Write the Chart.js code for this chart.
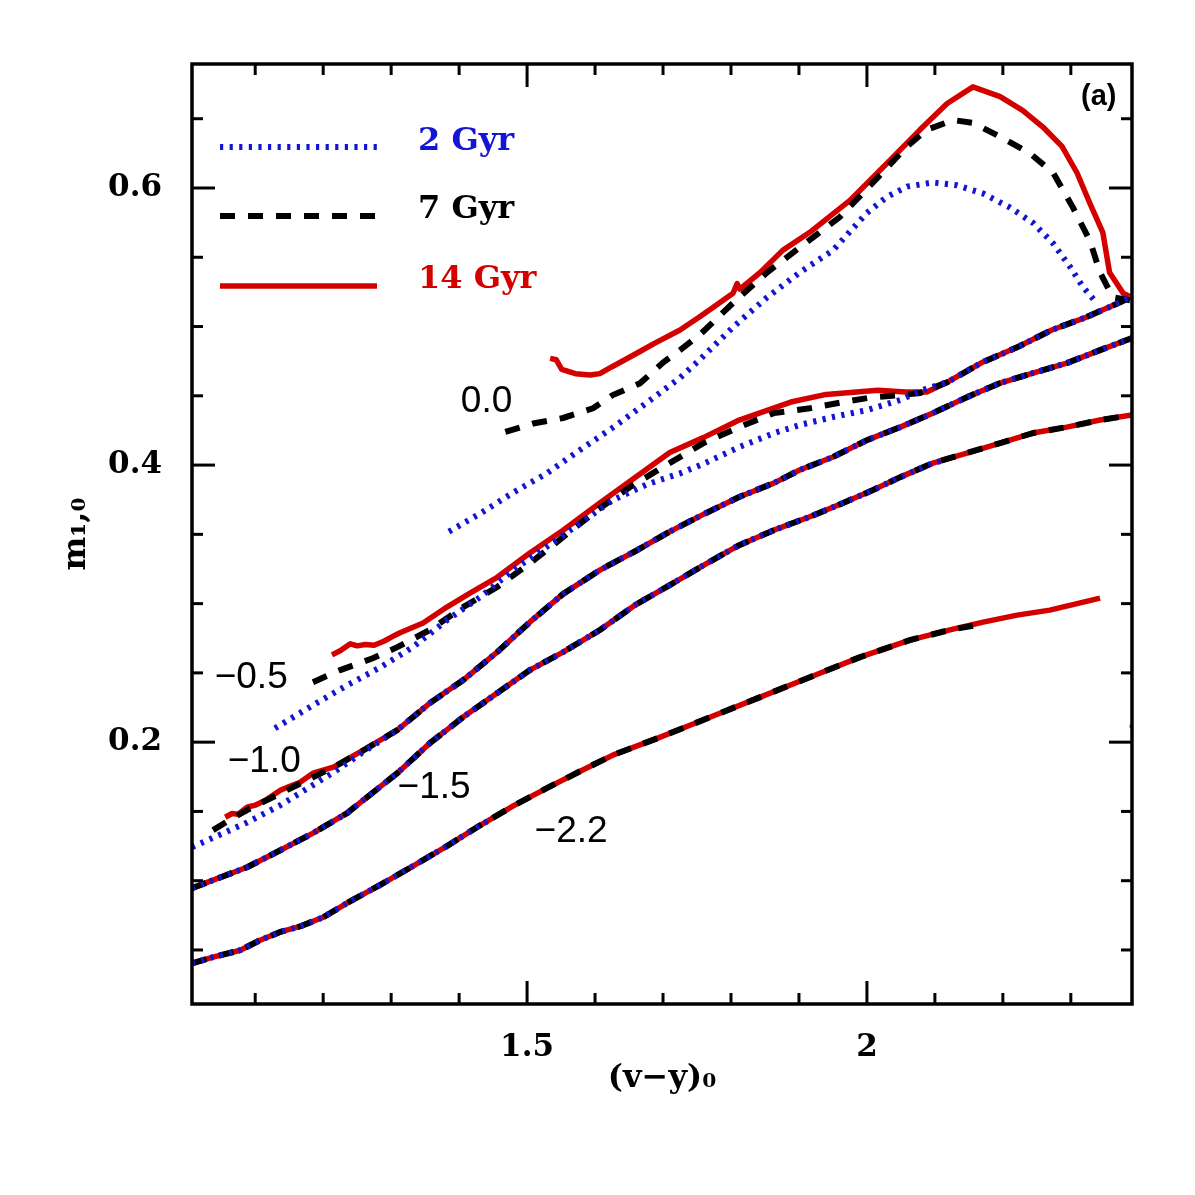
<!DOCTYPE html>
<html><head><meta charset="utf-8">
<script src="https://cdn.jsdelivr.net/npm/chart.js@4/dist/chart.umd.min.js"></script>
<style>html,body{margin:0;padding:0;background:#fff}canvas{display:block}</style>
</head><body>
<canvas id="c" width="1195" height="1195"></canvas>
<script>
// ---------------- data ----------------
const ageLabels = ['2 Gyr', '7 Gyr', '14 Gyr'];
const fehLabels = ['0.0', '\u22120.5', '\u22121.0', '\u22121.5', '\u22122.2'];

// [Fe/H] = 0.0
const x00_14 = [1.534,1.543,1.551,1.571,1.593,1.607,1.625,1.644,1.666,1.688,1.725,1.754,1.774,1.803,1.809,1.813,1.843,1.876,1.916,1.975,2.034,2.078,2.118,2.156,2.196,2.229,2.259,2.287,2.309,2.328,2.347,2.357,2.377,2.390];
const y00_14 = [0.477,0.476,0.469,0.466,0.465,0.466,0.471,0.476,0.482,0.488,0.4975,0.507,0.514,0.524,0.531,0.527,0.539,0.555,0.568,0.591,0.620,0.642,0.661,0.673,0.666,0.656,0.644,0.630,0.611,0.589,0.568,0.539,0.524,0.521];
const x00_7 = [1.468,1.509,1.553,1.597,1.626,1.666,1.700,1.725,1.754,1.803,1.853,1.901,1.960,2.009,2.059,2.088,2.127,2.156,2.196,2.240,2.274,2.303,2.328,2.343,2.362,2.387];
const y00_7 = [0.424,0.430,0.434,0.441,0.4505,0.459,0.474,0.483,0.494,0.517,0.539,0.557,0.579,0.604,0.630,0.642,0.649,0.647,0.637,0.625,0.611,0.586,0.562,0.539,0.521,0.519];
const x00_2 = [1.385,1.431,1.479,1.529,1.578,1.626,1.676,1.725,1.754,1.803,1.853,1.901,1.950,2.000,2.029,2.059,2.097,2.132,2.171,2.210,2.244,2.274,2.299,2.318,2.338];
const y00_2 = [0.352,0.365,0.380,0.394,0.411,0.427,0.445,0.463,0.476,0.4996,0.521,0.539,0.555,0.582,0.5935,0.601,0.604,0.602,0.596,0.586,0.575,0.560,0.543,0.5285,0.517];

// [Fe/H] = -0.5
const xm05_trunk = [2.119,2.169,2.221,2.272,2.324,2.375,2.390];
const ym05_trunk = [0.460,0.474,0.485,0.4975,0.507,0.518,0.522];
const xm05_14 = [1.213,1.225,1.240,1.250,1.262,1.275,1.290,1.301,1.313,1.347,1.382,1.416,1.456,1.504,1.553,1.607,1.659,1.710,1.760,1.812,1.888,1.940,2.016,2.057,2.088];
const ym05_14 = [0.263,0.266,0.271,0.2695,0.2705,0.270,0.273,0.276,0.279,0.286,0.2975,0.3076,0.319,0.3365,0.353,0.3726,0.391,0.409,0.420,0.4325,0.4455,0.451,0.454,0.4527,0.4527];
const xm05_7 = [1.185,1.225,1.273,1.309,1.357,1.406,1.456,1.504,1.553,1.603,1.651,1.700,1.760,1.812,1.863,1.916,1.965,2.009,2.049,2.078];
const ym05_7 = [0.2433,0.252,0.2606,0.2686,0.281,0.2975,0.312,0.329,0.348,0.3675,0.384,0.3986,0.416,0.4274,0.4375,0.441,0.4455,0.449,0.4505,0.452];
const xm05_2 = [1.129,1.185,1.235,1.284,1.332,1.382,1.431,1.479,1.529,1.578,1.626,1.676,1.725,1.760,1.812,1.863,1.901,1.950,2.000,2.049,2.082];
const ym05_2 = [0.210,0.2267,0.241,0.254,0.2686,0.288,0.3047,0.324,0.341,0.358,0.3747,0.386,0.394,0.401,0.413,0.423,0.4289,0.4347,0.4397,0.447,0.4542];

// [Fe/H] = -1.0
const xm10_trunk = [1.309,1.357,1.406,1.456,1.504,1.553,1.607,1.659,1.710,1.760,1.812,1.863,1.901,1.950,2.000,2.049,2.097,2.147,2.196,2.244,2.294,2.343,2.390];
const ym10_trunk = [0.2087,0.2282,0.2448,0.265,0.2866,0.307,0.3242,0.3378,0.352,0.3646,0.377,0.387,0.3964,0.4058,0.418,0.4274,0.4375,0.449,0.4592,0.4664,0.4736,0.483,0.4917];
const xm10_14 = [1.056,1.066,1.075,1.088,1.100,1.115,1.137,1.150,1.166,1.185,1.215,1.259];
const ym10_14 = [0.1458,0.1485,0.148,0.153,0.1545,0.158,0.1653,0.168,0.171,0.1776,0.182,0.1942];
const xm10_7 = [1.038,1.063,1.088,1.137,1.185,1.221,1.259];
const ym10_7 = [0.1365,0.144,0.151,0.163,0.1747,0.1834,0.194];
const xm10_2 = [1.007,1.038,1.088,1.137,1.185,1.221,1.259];
const ym10_2 = [0.1242,0.131,0.142,0.1545,0.169,0.180,0.193];

// [Fe/H] = -1.5
const xm15 = [1.007,1.038,1.088,1.137,1.185,1.235,1.259,1.309,1.357,1.406,1.456,1.504,1.553,1.607,1.659,1.710,1.760,1.812,1.863,1.915,1.965,2.009,2.049,2.097,2.147,2.196,2.244,2.294,2.343,2.390];
const ym15 = [0.0946,0.1004,0.1097,0.122,0.1343,0.1487,0.1581,0.1776,0.1993,0.2181,0.2354,0.252,0.265,0.2809,0.299,0.3134,0.3278,0.3422,0.353,0.3625,0.3726,0.382,0.3913,0.4014,0.4087,0.4159,0.4231,0.4274,0.4325,0.4361];
const xm15_2 = [1.007,1.038,1.088,1.137,1.185,1.235,1.259,1.309,1.357,1.406,1.456,1.504,1.553,1.607,1.659,1.710,1.760,1.812,1.863,1.915,1.965,2.009,2.049,2.097,2.113];
const ym15_2 = [0.0946,0.1004,0.1097,0.122,0.1343,0.1487,0.1581,0.1776,0.1993,0.2181,0.2354,0.252,0.265,0.2809,0.299,0.3134,0.3278,0.3422,0.353,0.3625,0.3726,0.382,0.3913,0.4014,0.4036];

// [Fe/H] = -2.2
const xm22_14 = [1.007,1.038,1.078,1.107,1.137,1.166,1.200,1.235,1.284,1.332,1.382,1.431,1.479,1.529,1.578,1.626,1.696,1.769,1.843,1.916,1.990,2.063,2.122,2.171,2.221,2.269,2.343];
const ym22_14 = [0.0404,0.0448,0.0498,0.057,0.063,0.067,0.0736,0.0838,0.097,0.1105,0.125,0.140,0.1538,0.1668,0.179,0.1906,0.2036,0.218,0.2325,0.2469,0.2614,0.2736,0.281,0.2866,0.2917,0.2953,0.304];
const xm22_7 = [1.007,1.038,1.078,1.107,1.137,1.166,1.200,1.235,1.284,1.332,1.382,1.431,1.479,1.529,1.578,1.626,1.696,1.769,1.843,1.916,1.990,2.063,2.122,2.156];
const ym22_7 = [0.0404,0.0448,0.0498,0.057,0.063,0.067,0.0736,0.0838,0.097,0.1105,0.125,0.140,0.1538,0.1668,0.179,0.1906,0.2036,0.218,0.2325,0.2469,0.2614,0.2736,0.281,0.284];
const xm22_2 = [1.007,1.038,1.078,1.107,1.137,1.166,1.200,1.235,1.284,1.332,1.382,1.431,1.450];
const ym22_2 = [0.0404,0.0448,0.0498,0.057,0.063,0.067,0.0736,0.0838,0.097,0.1105,0.125,0.140,0.145];

// stray red point at the right frame
const xStray = [2.39];
const yStray = [0.2115];

// axis ticks
const xTicksMajor = [1.5, 2];
const yTicksMajor = [0.2, 0.4, 0.6];
const xTicksMinor = [1.1,1.2,1.3,1.4,1.5,1.6,1.7,1.8,1.9,2.0,2.1,2.2,2.3];
const yTicksMinor = [0.05,0.1,0.15,0.2,0.25,0.3,0.35,0.4,0.45,0.5,0.55,0.6,0.65];

// label anchors (data coordinates)
const fehLabelX = [1.4404, 1.0941, 1.1132, 1.3632, 1.5647];
const fehLabelY = [0.4383, 0.239, 0.1783, 0.1596, 0.1278];

// ---------------- styles ----------------
const STYLE = {
  '2 Gyr':  {color: '#1414d4', width: 6,   dash: [3.2, 6.4]},
  '7 Gyr':  {color: '#000000', width: 6,   dash: [15, 13]},
  '14 Gyr': {color: '#d40000', width: 5.5, dash: []}
};

function pts(xs, ys) { return xs.map((x, i) => ({x: x, y: ys[i]})); }
function ds(age, feh, xs, ys) {
  const s = STYLE[age];
  return {
    label: age + ' [Fe/H]=' + feh, age: age,
    data: pts(xs, ys),
    borderColor: s.color, backgroundColor: s.color,
    borderWidth: s.width, borderDash: s.dash,
    borderCapStyle: 'butt', borderJoinStyle: age === '14 Gyr' ? 'round' : 'miter',
    pointRadius: 0, tension: 0, fill: false
  };
}

const datasets = [
  // 2 Gyr (drawn on top)
  ds('2 Gyr', '0.0', x00_2, y00_2),
  ds('2 Gyr', '-0.5', xm05_2.concat(xm05_trunk), ym05_2.concat(ym05_trunk)),
  ds('2 Gyr', '-1.0', xm10_2.concat(xm10_trunk), ym10_2.concat(ym10_trunk)),
  ds('2 Gyr', '-1.5', xm15_2, ym15_2),
  ds('2 Gyr', '-2.2', xm22_2, ym22_2),
  // 7 Gyr
  ds('7 Gyr', '0.0', x00_7, y00_7),
  ds('7 Gyr', '-0.5', xm05_7.concat(xm05_trunk), ym05_7.concat(ym05_trunk)),
  ds('7 Gyr', '-1.0', xm10_7.concat(xm10_trunk), ym10_7.concat(ym10_trunk)),
  ds('7 Gyr', '-1.5', xm15, ym15),
  ds('7 Gyr', '-2.2', xm22_7, ym22_7),
  // 14 Gyr (bottom)
  ds('14 Gyr', '0.0', x00_14, y00_14),
  ds('14 Gyr', '-0.5', xm05_14.concat(xm05_trunk), ym05_14.concat(ym05_trunk)),
  ds('14 Gyr', '-1.0', xm10_14.concat(xm10_trunk), ym10_14.concat(ym10_trunk)),
  ds('14 Gyr', '-1.5', xm15, ym15),
  ds('14 Gyr', '-2.2', xm22_14, ym22_14),
  {label: 'stray', age: null, data: pts(xStray, yStray), showLine: false,
   pointRadius: 2.5, pointBackgroundColor: '#d40000', pointBorderWidth: 0, borderColor: '#d40000'}
];

const SERIF = "'DejaVu Serif', serif";
const SANS = "'Liberation Sans', Arial, sans-serif";

// frame + inward ticks on all four sides
const frameTicks = {
  id: 'frameTicks',
  afterDatasetsDraw(chart) {
    const {ctx, chartArea: a, scales: {x, y}} = chart;
    ctx.save();
    ctx.strokeStyle = '#000';
    ctx.lineCap = 'butt';
    ctx.lineWidth = 3;
    const seg = (x1, y1, x2, y2) => { ctx.beginPath(); ctx.moveTo(x1, y1); ctx.lineTo(x2, y2); ctx.stroke(); };
    xTicksMinor.forEach(v => {
      const p = x.getPixelForValue(v);
      const L = xTicksMajor.some(m => Math.abs(m - v) < 1e-9) ? 23 : 11;
      seg(p, a.bottom, p, a.bottom - L);
      seg(p, a.top, p, a.top + L);
    });
    yTicksMinor.forEach(v => {
      const p = y.getPixelForValue(v);
      const L = yTicksMajor.some(m => Math.abs(m - v) < 1e-9) ? 23 : 11;
      seg(a.left, p, a.left + L, p);
      seg(a.right, p, a.right - L, p);
    });
    ctx.lineWidth = 3.5;
    ctx.strokeRect(a.left, a.top, a.right - a.left, a.bottom - a.top);
    ctx.restore();
  }
};

// legend + curve labels
const annotations = {
  id: 'annotations',
  afterDraw(chart) {
    const {ctx, chartArea: a, scales: {x, y}} = chart;
    ctx.save();
    // legend
    const rowLine = [83, 152, 222];
    const rowText = [86, 154, 224];
    ageLabels.forEach((age, i) => {
      const s = STYLE[age];
      ctx.strokeStyle = s.color;
      ctx.lineWidth = s.width;
      ctx.setLineDash(s.dash);
      ctx.lineCap = 'butt';
      ctx.beginPath();
      ctx.moveTo(a.left + 28, a.top + rowLine[i]);
      ctx.lineTo(a.left + 185, a.top + rowLine[i]);
      ctx.stroke();
      ctx.setLineDash([]);
      ctx.fillStyle = s.color;
      ctx.font = 'bold 32px ' + SERIF;
      ctx.textAlign = 'left';
      ctx.textBaseline = 'alphabetic';
      ctx.fillText(age, a.left + 226, a.top + rowText[i]);
    });
    // metallicity labels
    ctx.fillStyle = '#000';
    ctx.font = '37px ' + SANS;
    ctx.textAlign = 'center';
    ctx.textBaseline = 'alphabetic';
    fehLabels.forEach((t, i) => {
      ctx.fillText(t, x.getPixelForValue(fehLabelX[i]), y.getPixelForValue(fehLabelY[i]));
    });
    // panel label
    ctx.font = 'bold 29px ' + SANS;
    ctx.fillText('(a)', x.getPixelForValue(2.341), y.getPixelForValue(0.66));
    ctx.restore();
  }
};

new Chart(document.getElementById('c'), {
  type: 'line',
  data: {datasets: datasets},
  options: {
    responsive: false,
    devicePixelRatio: 1,
    animation: false,
    layout: {padding: {top: 64, right: 63, left: 0, bottom: 0}},
    plugins: {legend: {display: false}, tooltip: {enabled: false}},
    scales: {
      x: {
        type: 'linear', min: 1.007, max: 2.39,
        grid: {display: false}, border: {display: false},
        afterBuildTicks: s => { s.ticks = xTicksMajor.map(v => ({value: v})); },
        afterFit: s => { s.height = 191; },
        ticks: {
          autoSkip: false, maxRotation: 0, padding: 17, color: '#000',
          font: {family: SERIF, size: 31, weight: 'bold'},
          callback: v => String(v)
        },
        title: {
          display: true, text: '(v\u2212y)\u2080', color: '#000',
          font: {family: SERIF, size: 32, weight: 'bold'},
          padding: {top: 0, bottom: 97}
        }
      },
      y: {
        type: 'linear', min: 0.011, max: 0.6895,
        grid: {display: false}, border: {display: false},
        afterBuildTicks: s => { s.ticks = yTicksMajor.map(v => ({value: v})); },
        afterFit: s => { s.width = 192; },
        ticks: {
          autoSkip: false, padding: 22, color: '#000',
          font: {family: SERIF, size: 31, weight: 'bold'},
          callback: v => String(v)
        },
        title: {
          display: true, text: 'm\u2081,\u2080', color: '#000',
          font: {family: SERIF, size: 32, weight: 'bold'},
          padding: {top: 57, bottom: 0}
        }
      }
    }
  },
  plugins: [frameTicks, annotations]
});
</script>
</body></html>
